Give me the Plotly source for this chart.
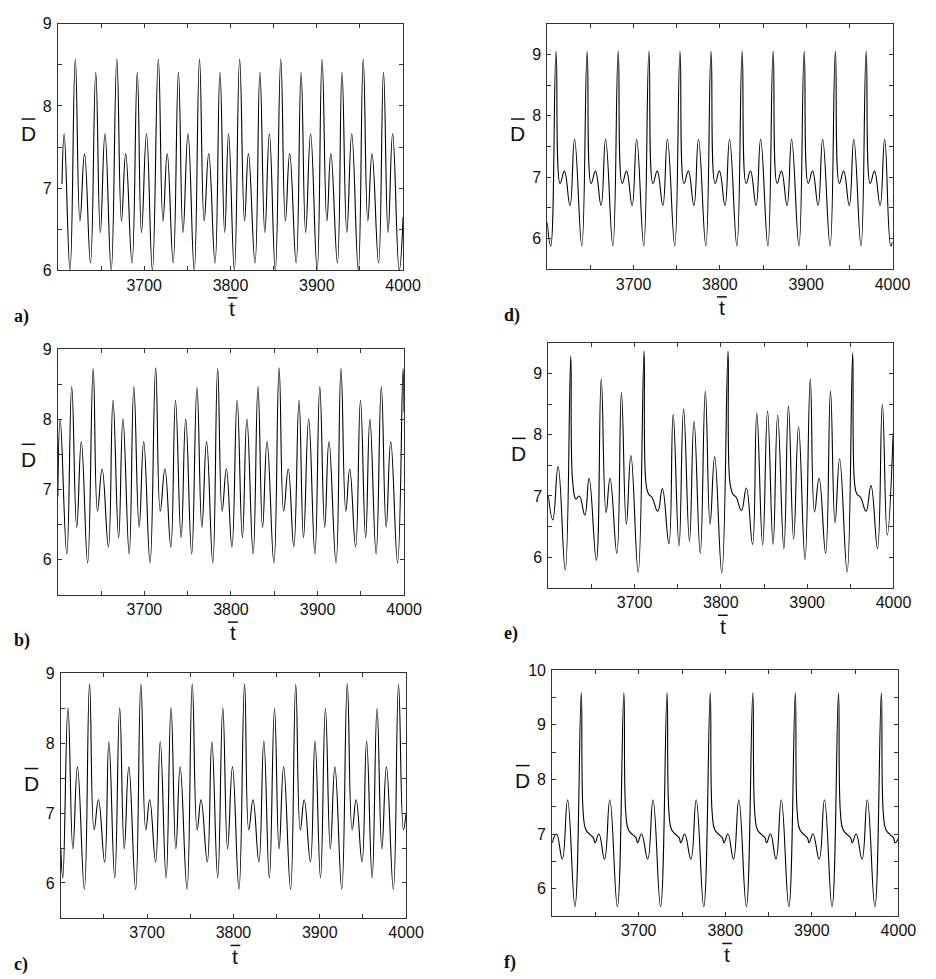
import plotly.graph_objects as go

FIG_W, FIG_H = 936, 979

# ---------------- data ----------------
# panel a
a_t = [3604.8, 3607.3, 3614.1, 3620.2, 3625.6, 3630.9, 3637.8, 3643.9, 3649.2, 3654.6,
       3661.8, 3668.3, 3673.7, 3678.6, 3685.9, 3692.0, 3696.9, 3702.7, 3709.5, 3716.4,
       3721.8, 3726.7, 3733.6, 3739.7, 3745.0, 3750.8, 3758.0, 3764.1, 3769.5, 3774.8,
       3782.1, 3787.8, 3793.3, 3797.8, 3804.5, 3810.6, 3816.3, 3820.8, 3828.4, 3834.1,
       3839.8, 3845.1, 3851.9, 3858.3, 3863.6, 3868.6, 3876.1, 3881.8, 3887.1, 3892.8,
       3900.4, 3906.1, 3911.7, 3916.3, 3923.9, 3929.2, 3934.8, 3940.5, 3948.1, 3953.8,
       3959.1, 3964.0, 3971.6, 3977.3, 3982.6, 3987.9, 3995.5, 4000.0]
a_D = [7.05, 7.66, 6.00, 8.57, 6.60, 7.42, 6.09, 8.41, 6.46, 7.66,
       6.00, 8.57, 6.60, 7.42, 6.09, 8.41, 6.46, 7.66, 6.00, 8.57,
       6.60, 7.42, 6.09, 8.41, 6.46, 7.66, 6.00, 8.57, 6.60, 7.42,
       6.09, 8.41, 6.46, 7.66, 6.00, 8.57, 6.60, 7.42, 6.09, 8.41,
       6.46, 7.66, 6.00, 8.57, 6.60, 7.42, 6.09, 8.41, 6.46, 7.66,
       6.00, 8.57, 6.60, 7.42, 6.09, 8.41, 6.46, 7.66, 6.00, 8.57,
       6.60, 7.42, 6.09, 8.41, 6.46, 7.66, 6.00, 6.65]

# panel b
b_t = [3600.0, 3602.7, 3610.3, 3616.0, 3621.8, 3627.1, 3634.4, 3640.8, 3645.8, 3651.1,
       3658.4, 3663.7, 3670.2, 3675.2, 3682.4, 3687.8, 3693.9, 3699.2, 3706.5, 3713.0,
       3718.3, 3723.7, 3730.5, 3735.9, 3742.4, 3747.7, 3754.6, 3760.7, 3766.4, 3771.8,
       3779.0, 3784.6, 3789.8, 3794.7, 3801.1, 3807.1, 3813.2, 3818.4, 3825.6, 3831.2,
       3836.5, 3841.7, 3849.6, 3855.6, 3860.9, 3866.2, 3872.6, 3878.6, 3883.8, 3889.8,
       3897.0, 3902.6, 3908.3, 3913.2, 3921.4, 3927.1, 3932.7, 3937.2, 3944.0, 3949.6,
       3955.6, 3960.5, 3967.7, 3973.7, 3979.3, 3984.6, 3992.5, 3998.8, 4000.0]
b_D = [6.90, 8.00, 6.08, 8.46, 6.46, 7.68, 5.95, 8.72, 6.69, 7.29,
       6.18, 8.27, 6.31, 8.00, 6.08, 8.46, 6.46, 7.68, 5.95, 8.73,
       6.69, 7.29, 6.18, 8.27, 6.31, 8.00, 6.08, 8.45, 6.46, 7.68,
       5.95, 8.72, 6.69, 7.29, 6.18, 8.27, 6.31, 8.00, 6.08, 8.46,
       6.46, 7.68, 5.95, 8.73, 6.69, 7.29, 6.18, 8.27, 6.31, 8.00,
       6.08, 8.46, 6.46, 7.68, 5.95, 8.72, 6.69, 7.29, 6.18, 8.27,
       6.31, 8.00, 6.08, 8.46, 6.46, 7.68, 5.95, 8.72, 8.10]

# panel c
c_t = [3600.0, 3602.3, 3608.3, 3614.0, 3619.3, 3627.3, 3633.3, 3638.6, 3643.6, 3650.8,
       3655.7, 3662.5, 3668.2, 3673.5, 3678.8, 3686.7, 3692.8, 3698.5, 3703.0, 3709.8,
       3715.2, 3722.0, 3727.7, 3733.3, 3738.3, 3746.2, 3752.3, 3758.0, 3762.5, 3769.7,
       3775.0, 3781.8, 3787.7, 3793.2, 3798.9, 3806.4, 3812.9, 3817.8, 3822.7, 3829.5,
       3835.2, 3841.6, 3847.6, 3852.9, 3858.2, 3866.2, 3872.2, 3877.5, 3882.0, 3889.2,
       3894.5, 3900.9, 3906.6, 3912.3, 3917.6, 3925.5, 3931.9, 3937.6, 3942.2, 3949.0,
       3954.3, 3960.7, 3966.4, 3972.0, 3977.3, 3985.3, 3991.3, 3997.0, 4000.0]
c_D = [6.50, 6.07, 8.51, 6.49, 7.66, 5.91, 8.85, 6.76, 7.19, 6.30,
       8.02, 6.07, 8.51, 6.49, 7.66, 5.91, 8.85, 6.76, 7.19, 6.30,
       8.02, 6.07, 8.51, 6.49, 7.66, 5.91, 8.85, 6.76, 7.19, 6.30,
       8.02, 6.07, 8.51, 6.49, 7.66, 5.91, 8.85, 6.76, 7.19, 6.30,
       8.03, 6.07, 8.50, 6.49, 7.66, 5.91, 8.84, 6.76, 7.19, 6.30,
       8.03, 6.07, 8.50, 6.49, 7.66, 5.91, 8.85, 6.76, 7.19, 6.30,
       8.03, 6.07, 8.50, 6.49, 7.66, 5.91, 8.84, 6.76, 7.00]

# panel d
d_t = [3600.0, 3604.0, 3610.2, 3614.9, 3619.8, 3626.3, 3631.6, 3640.0, 3646.2, 3650.9,
       3655.8, 3662.3, 3667.6, 3676.0, 3682.2, 3686.9, 3691.8, 3698.3, 3703.6, 3711.8,
       3717.8, 3722.5, 3727.4, 3733.9, 3739.2, 3747.7, 3753.8, 3758.5, 3763.4, 3769.9,
       3775.2, 3783.7, 3789.8, 3794.5, 3799.4, 3805.9, 3811.2, 3819.7, 3825.8, 3830.5,
       3835.4, 3841.9, 3847.2, 3855.6, 3861.7, 3866.4, 3871.3, 3877.8, 3883.1, 3891.6,
       3897.7, 3902.4, 3907.3, 3913.8, 3919.1, 3927.7, 3933.8, 3938.5, 3943.4, 3949.9,
       3955.2, 3963.5, 3969.5, 3974.2, 3979.1, 3985.6, 3990.9, 3998.0, 4000.0]
d_D = [6.26, 5.88, 9.05, 6.90, 7.10, 6.54, 7.62, 5.88, 9.05, 6.90,
       7.10, 6.54, 7.62, 5.88, 9.05, 6.90, 7.10, 6.54, 7.62, 5.88,
       9.05, 6.90, 7.10, 6.54, 7.62, 5.88, 9.05, 6.90, 7.10, 6.54,
       7.62, 5.88, 9.05, 6.90, 7.10, 6.54, 7.62, 5.88, 9.05, 6.90,
       7.10, 6.54, 7.62, 5.88, 9.05, 6.90, 7.10, 6.54, 7.62, 5.88,
       9.05, 6.90, 7.10, 6.54, 7.62, 5.88, 9.05, 6.90, 7.10, 6.54,
       7.62, 5.88, 9.05, 6.90, 7.10, 6.54, 7.62, 5.88, 5.95]

# panel e
e_t = [3600.0, 3605.3, 3611.4, 3619.7, 3626.1, 3628.5, 3632.2, 3636.0, 3642.4, 3647.3,
       3655.7, 3661.4, 3667.0, 3671.6, 3679.5, 3684.8, 3690.5, 3695.8, 3704.2, 3711.0,
       3713.3, 3716.3, 3720.1, 3726.9, 3732.2, 3739.8, 3744.7, 3751.5, 3756.8, 3763.6,
       3768.9, 3776.1, 3782.0, 3787.5, 3792.8, 3801.1, 3808.3, 3810.6, 3814.0, 3817.8,
       3823.8, 3829.5, 3836.7, 3841.6, 3848.4, 3854.1, 3860.5, 3865.8, 3873.0, 3878.3,
       3884.3, 3890.0, 3897.5, 3903.6, 3908.5, 3913.8, 3921.4, 3927.0, 3932.3, 3937.6,
       3946.3, 3952.7, 3955.0, 3957.7, 3961.8, 3968.2, 3973.9, 3981.5, 3987.1, 3992.8,
       3999.6]
e_D = [7.02, 6.61, 7.48, 5.79, 9.29, 7.20, 6.95, 7.00, 6.69, 7.29,
       5.95, 8.91, 6.73, 7.29, 6.06, 8.69, 6.54, 7.66, 5.75, 9.37,
       7.20, 7.03, 6.98, 6.75, 7.12, 6.22, 8.33, 6.18, 8.42, 6.26,
       8.22, 6.06, 8.71, 6.54, 7.64, 5.74, 9.37, 7.21, 7.03, 6.98,
       6.76, 7.13, 6.21, 8.36, 6.20, 8.39, 6.21, 8.32, 6.14, 8.47,
       6.30, 8.13, 5.96, 8.91, 6.74, 7.29, 6.06, 8.72, 6.56, 7.61,
       5.76, 9.34, 7.20, 7.03, 6.98, 6.75, 7.17, 6.14, 8.50, 6.36,
       8.03]

# panel f
f_t = [3600.0, 3605.0, 3611.7, 3617.8, 3626.3, 3633.6, 3635.9, 3638.9, 3643.8, 3647.6,
       3649.5, 3654.0, 3660.5, 3666.6, 3675.3, 3682.8, 3685.1, 3688.1, 3693.0, 3696.8,
       3698.7, 3703.2, 3710.4, 3716.5, 3725.2, 3732.7, 3735.0, 3738.0, 3742.9, 3746.7,
       3748.6, 3753.1, 3760.3, 3766.4, 3775.1, 3782.6, 3784.9, 3787.9, 3792.8, 3796.6,
       3798.5, 3803.0, 3809.5, 3815.6, 3824.3, 3831.8, 3834.1, 3837.1, 3842.0, 3845.8,
       3847.7, 3852.2, 3858.6, 3864.7, 3873.4, 3880.9, 3883.2, 3886.2, 3891.1, 3894.9,
       3896.8, 3901.3, 3908.5, 3914.6, 3923.3, 3930.8, 3933.1, 3936.1, 3941.0, 3944.8,
       3946.7, 3951.2, 3958.0, 3964.1, 3972.8, 3980.3, 3982.6, 3985.6, 3990.5, 3994.3,
       3996.2, 4000.0]
f_D = [6.84, 7.00, 6.54, 7.63, 5.67, 9.59, 7.38, 7.08, 6.99, 6.93,
       6.84, 7.00, 6.54, 7.63, 5.67, 9.59, 7.38, 7.08, 6.99, 6.93,
       6.84, 7.00, 6.54, 7.63, 5.67, 9.59, 7.38, 7.08, 6.99, 6.93,
       6.84, 7.00, 6.54, 7.63, 5.67, 9.59, 7.38, 7.08, 6.99, 6.93,
       6.84, 7.00, 6.54, 7.63, 5.67, 9.59, 7.38, 7.08, 6.99, 6.93,
       6.84, 7.00, 6.54, 7.63, 5.67, 9.59, 7.38, 7.08, 6.99, 6.93,
       6.84, 7.00, 6.54, 7.63, 5.67, 9.59, 7.38, 7.08, 6.99, 6.93,
       6.84, 7.00, 6.54, 7.63, 5.67, 9.59, 7.38, 7.08, 6.99, 6.93,
       6.84, 6.92]

# ticks
x_tick_vals = [3650, 3700, 3750, 3800, 3850, 3900, 3950, 4000]
x_tick_text = ["", "3700", "", "3800", "", "3900", "", "4000"]
y_ticks_a = [6, 6.5, 7, 7.5, 8, 8.5, 9]
y_text_a = ["6", "", "7", "", "8", "", "9"]
y_ticks_bc = [5.5, 6, 6.5, 7, 7.5, 8, 8.5, 9]
y_text_bc = ["", "6", "", "7", "", "8", "", "9"]
y_ticks_de = [5.5, 6, 6.5, 7, 7.5, 8, 8.5, 9, 9.5]
y_text_de = ["", "6", "", "7", "", "8", "", "9", ""]
y_ticks_f = [5.5, 6, 6.5, 7, 7.5, 8, 8.5, 9, 9.5, 10]
y_text_f = ["", "6", "", "7", "", "8", "", "9", "", "10"]

# ---------------- layout configuration (pixels) ----------------
panels = [
    # label, t, D, (left, right, top, bottom) px, y-range, yticks, ytext
    ("a)", a_t, a_D, (59, 411, 16, 267), (6, 9), y_ticks_a, y_text_a),
    ("d)", d_t, d_D, (558, 910, 16, 266), (5.5, 9.5), y_ticks_de, y_text_de),
    ("b)", b_t, b_D, (59, 412, 347, 597), (5.5, 9), y_ticks_bc, y_text_bc),
    ("e)", e_t, e_D, (559, 911, 341, 590), (5.5, 9.5), y_ticks_de, y_text_de),
    ("c)", c_t, c_D, (62, 414, 677, 926), (5.5, 9), y_ticks_bc, y_text_bc),
    ("f)", f_t, f_D, (563, 916, 674, 924), (5.5, 10), y_ticks_f, y_text_f),
]


def px(x):
    return x / FIG_W


def py(y):
    return 1 - y / FIG_H


AX_COLOR = "#333333"
TICK_FONT = dict(family="Liberation Sans, Arial, sans-serif", size=16, color="#111111")
LABEL_FONT = dict(family="Liberation Sans, Arial, sans-serif", size=21, color="#111111")
PANEL_FONT = dict(family="Liberation Serif, Times New Roman, serif", size=18, color="#111111")

fig = go.Figure()
layout = {}
annotations = []
shapes = []

for i, (lab, tt, dd, box, yr, yt, ytx) in enumerate(panels):
    n = "" if i == 0 else str(i + 1)
    left, right, top, bottom = box
    fig.add_trace(go.Scatter(
        x=tt, y=dd, mode="lines",
        line=dict(color="black", width=1.1, shape="spline", smoothing=1.3),
        xaxis="x" + n, yaxis="y" + n, showlegend=False, hoverinfo="skip"))
    common = dict(showline=True, linecolor=AX_COLOR, linewidth=1, mirror="ticks",
                  ticks="inside", ticklen=4, tickwidth=1, tickcolor=AX_COLOR,
                  showgrid=False, zeroline=False, tickfont=TICK_FONT, fixedrange=True)
    layout["xaxis" + n] = dict(common, domain=[px(left), px(right)], range=[3600, 4000],
                               anchor="y" + n, tickmode="array", tickvals=x_tick_vals,
                               ticktext=x_tick_text, ticklabelstandoff=0)
    layout["yaxis" + n] = dict(common, domain=[py(bottom), py(top)], range=list(yr),
                               anchor="x" + n, tickmode="array", tickvals=yt,
                               ticktext=ytx, ticklabelstandoff=2)

    # y-axis label: D with an overbar
    dx = left - 30
    dy = top + 112
    annotations.append(dict(text="D", x=px(dx), y=py(dy), xref="paper", yref="paper",
                            showarrow=False, xanchor="center", yanchor="middle",
                            font=LABEL_FONT))
    shapes.append(dict(type="line", xref="paper", yref="paper",
                       x0=px(dx - 7), x1=px(dx + 7), y0=py(dy - 15), y1=py(dy - 15),
                       line=dict(color="#111111", width=1.5)))
    # x-axis label: t with an overbar
    tx = (left + right) / 2 + 2
    ty = bottom + 39
    annotations.append(dict(text="t", x=px(tx), y=py(ty), xref="paper", yref="paper",
                            showarrow=False, xanchor="center", yanchor="middle",
                            font=LABEL_FONT))
    shapes.append(dict(type="line", xref="paper", yref="paper",
                       x0=px(tx - 5), x1=px(tx + 5), y0=py(ty - 11), y1=py(ty - 11),
                       line=dict(color="#111111", width=1.5)))
    # panel label
    lx = 12 if left < 300 else 512
    annotations.append(dict(text="<b>" + lab + "</b>", x=px(lx), y=py(bottom + 47),
                            xref="paper", yref="paper", showarrow=False,
                            xanchor="left", yanchor="middle", font=PANEL_FONT))

fig.update_layout(
    width=FIG_W, height=FIG_H,
    margin=dict(l=0, r=0, t=0, b=0),
    paper_bgcolor="white", plot_bgcolor="white",
    annotations=annotations, shapes=shapes,
    **layout,
)

fig.write_html("out.html")
